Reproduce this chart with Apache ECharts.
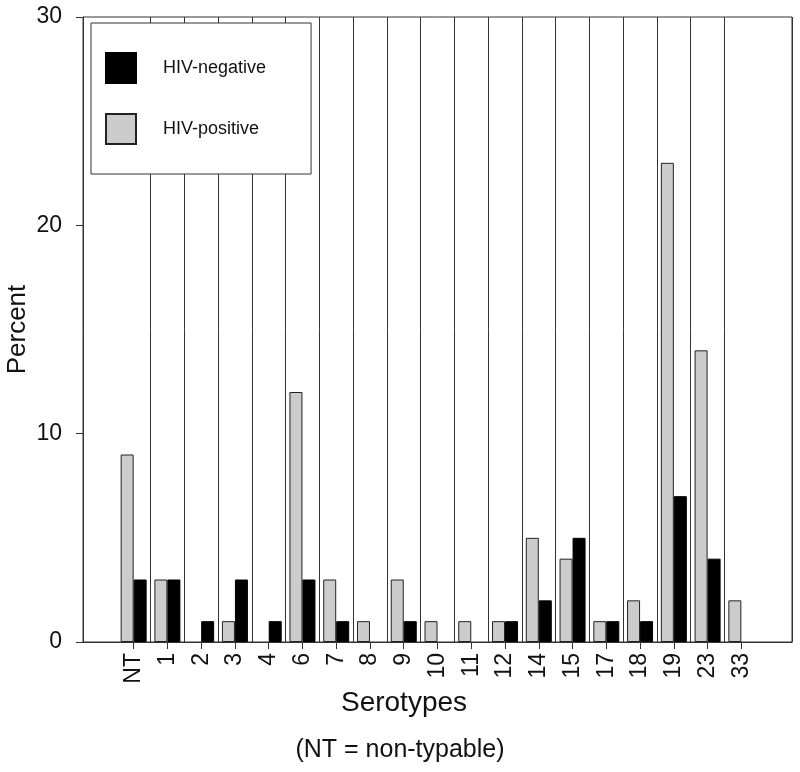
<!DOCTYPE html>
<html><head><meta charset="utf-8">
<script src="https://cdn.jsdelivr.net/npm/echarts@6/dist/echarts.min.js"></script>
<style>html,body{margin:0;padding:0;background:#fff}#c{width:800px;height:772px}</style>
</head><body><div id="c"></div>
<script>
const categories = ['NT','1','2','3','4','6','7','8','9','10','11','12','14','15','17','18','19','23','33'];
const hivNegative = [3,3,1,3,1,3,1,0,1,0,0,1,2,5,1,1,7,4,0];
const hivPositive = [9,3,0,1,0,12,3,1,3,1,1,1,5,4,1,2,23,14,2];
const yTicks = [0,10,20,30];
const seriesNames = ['HIV-negative','HIV-positive'];

const FONT = '"Liberation Sans", Arial, Helvetica, sans-serif';
const LINE = '#333';
// one empty slot on each side of the category list leaves the frame margins
const cats = [''].concat(categories, ['']);
const pad = arr => [null].concat(arr.map(v => v === 0 ? null : v), [null]);
const nCat = categories.length;

// frame geometry
const G = {left:83, right:8, top:17, bottom:130, width:800};
const band = (G.width - G.left - G.right) / cats.length;

const chart = echarts.init(document.getElementById('c'), null, {renderer:'canvas'});
chart.setOption({
  backgroundColor:'#fff',
  animation:false,
  textStyle:{fontFamily:FONT},
  grid:[
    {left:G.left, right:G.right, top:G.top, bottom:G.bottom, show:true, borderColor:LINE, borderWidth:1,
     backgroundColor:'transparent', containLabel:false, outerBoundsMode:'none'},
    // tick-only grid spanning just the real categories
    {left:G.left + band, right:G.right + band, top:G.top, bottom:G.bottom, show:false,
     containLabel:false, outerBoundsMode:'none'}
  ],
  legend:{
    data:seriesNames, orient:'vertical', left:91, top:23,
    itemWidth:30, itemHeight:30, itemGap:29,
    backgroundColor:'#fff', borderColor:LINE, borderWidth:1,
    padding:[29,45,29,14], icon:'rect',
    textStyle:{fontSize:18, color:'#111', fontFamily:FONT, padding:[0,0,0,22]}
  },
  xAxis:[{
    type:'category', gridIndex:0, data:cats, boundaryGap:true, position:'bottom',
    name:'Serotypes', nameLocation:'middle', nameGap:47, nameMoveOverlap:false,
    nameTextStyle:{fontSize:28, color:'#111', fontFamily:FONT, padding:[0,67,0,0]},
    axisLine:{show:true, onZero:false, lineStyle:{color:LINE, width:1}},
    axisTick:{show:false},
    axisLabel:{rotate:90, fontSize:23, color:'#111', margin:11, interval:0, fontFamily:FONT},
    splitLine:{show:true, interval:(i)=> i>=2 && i<=nCat, lineStyle:{color:LINE, width:1}}
  },{
    type:'category', gridIndex:1, data:categories, boundaryGap:true, position:'bottom',
    axisLine:{show:false, onZero:false},
    axisTick:{show:true, alignWithLabel:true, length:7, interval:0, lineStyle:{color:LINE, width:1}},
    axisLabel:{show:false},
    splitLine:{show:false}
  }],
  yAxis:[{
    type:'value', gridIndex:0, min:yTicks[0], max:yTicks[yTicks.length-1], interval:10,
    name:'Percent', nameLocation:'middle', nameGap:52, nameMoveOverlap:false,
    nameTextStyle:{fontSize:26, color:'#111', fontFamily:FONT},
    axisLine:{show:true, onZero:false, lineStyle:{color:LINE, width:1}},
    axisTick:{show:true, length:7, lineStyle:{color:LINE}},
    axisLabel:{fontSize:23, color:'#111', margin:21, fontFamily:FONT},
    splitLine:{show:false}
  },{
    type:'value', gridIndex:1, min:yTicks[0], max:yTicks[yTicks.length-1], show:false,
    axisLine:{onZero:false}, splitLine:{show:false}
  }],
  series:[
    {name:seriesNames[1], type:'bar', xAxisIndex:0, yAxisIndex:0, data:pad(hivPositive), barWidth:13, barGap:'0%',
     itemStyle:{color:'#cccccc', borderColor:'#222', borderWidth:1}},
    {name:seriesNames[0], type:'bar', xAxisIndex:0, yAxisIndex:0, data:pad(hivNegative), barWidth:13, barGap:'0%',
     itemStyle:{color:'#000000', borderColor:'#000', borderWidth:1}}
  ],
  graphic:[{type:'text', left:'center', top:738, style:{text:'(NT = non-typable)', fontSize:25, fill:'#111', font:'25px '+FONT}}]
});
</script></body></html>
